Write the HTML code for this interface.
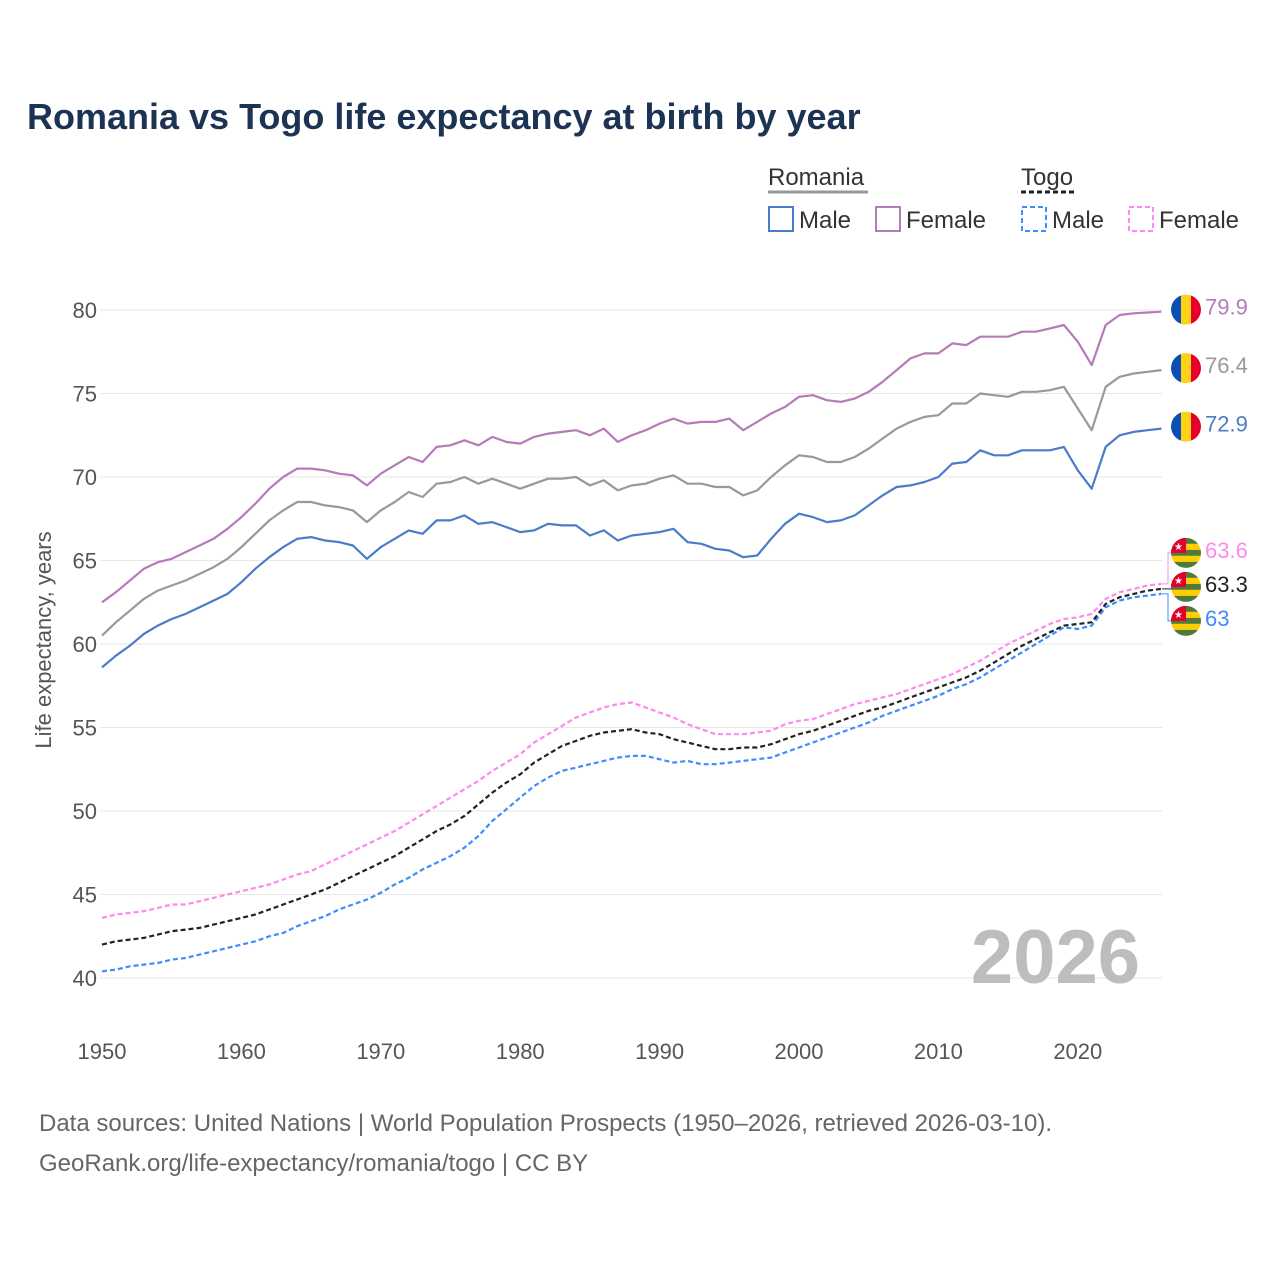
<!DOCTYPE html>
<html><head><meta charset="utf-8"><style>
body{margin:0;background:#fff;}
svg text{font-family:"Liberation Sans",sans-serif;}
</style></head><body>
<svg id="chart" width="1280" height="1280" viewBox="0 0 1280 1280" xmlns="http://www.w3.org/2000/svg">
<text x="27" y="129" font-size="36" font-weight="bold" fill="#1c3353">Romania vs Togo life expectancy at birth by year</text>
<g font-size="24" fill="#333">
<text x="768" y="185" font-size="24" fill="#333">Romania</text>
<line x1="768" y1="192" x2="868" y2="192" stroke="#999" stroke-width="3"/>
<text x="1021" y="185" font-size="24" fill="#333">Togo</text>
<line x1="1021" y1="192" x2="1076" y2="192" stroke="#222" stroke-width="3" stroke-dasharray="5,3"/>
<rect x="769" y="207" width="24" height="24" fill="none" stroke="#4a7cc9" stroke-width="2"/>
<text x="799" y="228" font-size="24" fill="#333">Male</text>
<rect x="876" y="207" width="24" height="24" fill="none" stroke="#b57bb8" stroke-width="2"/>
<text x="906" y="228" font-size="24" fill="#333">Female</text>
<rect x="1022" y="207" width="24" height="24" fill="none" stroke="#3f8cff" stroke-width="2" stroke-dasharray="5,3"/>
<text x="1052" y="228" font-size="24" fill="#333">Male</text>
<rect x="1129" y="207" width="24" height="24" fill="none" stroke="#ff88f0" stroke-width="2" stroke-dasharray="5,3"/>
<text x="1159" y="228" font-size="24" fill="#333">Female</text>
</g>
<g id="grid"></g>
<text transform="translate(51,640) rotate(-90)" text-anchor="middle" font-size="22" fill="#555">Life expectancy, years</text>
<text x="1140" y="983" text-anchor="end" font-size="76" font-weight="bold" fill="#bdbdbd">2026</text>
<g id="lines"></g>
<g id="labels"></g>
<text x="39" y="1131" font-size="24" fill="#666">Data sources: United Nations | World Population Prospects (1950–2026, retrieved 2026-03-10).</text>
<text x="39" y="1171" font-size="24" fill="#666">GeoRank.org/life-expectancy/romania/togo | CC BY</text>
</svg>
<script>
const startYear = 1950;
const xTicks = [1950,1960,1970,1980,1990,2000,2010,2020];
const yTicks = [40,45,50,55,60,65,70,75,80];
const roFemale = [62.5,63.1,63.8,64.5,64.9,65.1,65.5,65.9,66.3,66.9,67.6,68.4,69.3,70.0,70.5,70.5,70.4,70.2,70.1,69.5,70.2,70.7,71.2,70.9,71.8,71.9,72.2,71.9,72.4,72.1,72.0,72.4,72.6,72.7,72.8,72.5,72.9,72.1,72.5,72.8,73.2,73.5,73.2,73.3,73.3,73.5,72.8,73.3,73.8,74.2,74.8,74.9,74.6,74.5,74.7,75.1,75.7,76.4,77.1,77.4,77.4,78.0,77.9,78.4,78.4,78.4,78.7,78.7,78.9,79.1,78.1,76.7,79.1,79.7,79.8,79.85,79.9];
const roTotal = [60.5,61.3,62.0,62.7,63.2,63.5,63.8,64.2,64.6,65.1,65.8,66.6,67.4,68.0,68.5,68.5,68.3,68.2,68.0,67.3,68.0,68.5,69.1,68.8,69.6,69.7,70.0,69.6,69.9,69.6,69.3,69.6,69.9,69.9,70.0,69.5,69.8,69.2,69.5,69.6,69.9,70.1,69.6,69.6,69.4,69.4,68.9,69.2,70.0,70.7,71.3,71.2,70.9,70.9,71.2,71.7,72.3,72.9,73.3,73.6,73.7,74.4,74.4,75.0,74.9,74.8,75.1,75.1,75.2,75.4,74.1,72.8,75.4,76.0,76.2,76.3,76.4];
const roMale = [58.6,59.3,59.9,60.6,61.1,61.5,61.8,62.2,62.6,63.0,63.7,64.5,65.2,65.8,66.3,66.4,66.2,66.1,65.9,65.1,65.8,66.3,66.8,66.6,67.4,67.4,67.7,67.2,67.3,67.0,66.7,66.8,67.2,67.1,67.1,66.5,66.8,66.2,66.5,66.6,66.7,66.9,66.1,66.0,65.7,65.6,65.2,65.3,66.3,67.2,67.8,67.6,67.3,67.4,67.7,68.3,68.9,69.4,69.5,69.7,70.0,70.8,70.9,71.6,71.3,71.3,71.6,71.6,71.6,71.8,70.4,69.3,71.8,72.5,72.7,72.8,72.9];
const tgFemale = [43.6,43.8,43.9,44.0,44.2,44.4,44.4,44.6,44.8,45.0,45.2,45.4,45.6,45.9,46.2,46.4,46.8,47.2,47.6,48.0,48.4,48.8,49.3,49.8,50.3,50.8,51.3,51.8,52.4,52.9,53.4,54.1,54.6,55.1,55.6,55.9,56.2,56.4,56.5,56.2,55.9,55.6,55.2,54.9,54.6,54.6,54.6,54.7,54.8,55.2,55.4,55.5,55.8,56.1,56.4,56.6,56.8,57.0,57.3,57.6,57.9,58.2,58.6,59.0,59.5,60.0,60.4,60.8,61.2,61.5,61.6,61.8,62.7,63.1,63.3,63.5,63.6];
const tgTotal = [42.0,42.2,42.3,42.4,42.6,42.8,42.9,43.0,43.2,43.4,43.6,43.8,44.1,44.4,44.7,45.0,45.3,45.7,46.1,46.5,46.9,47.3,47.8,48.3,48.8,49.2,49.7,50.4,51.1,51.7,52.2,52.9,53.4,53.9,54.2,54.5,54.7,54.8,54.9,54.7,54.6,54.3,54.1,53.9,53.7,53.7,53.8,53.8,54.0,54.3,54.6,54.8,55.1,55.4,55.7,56.0,56.2,56.5,56.8,57.1,57.4,57.7,58.0,58.4,58.9,59.4,59.9,60.3,60.7,61.1,61.2,61.3,62.4,62.8,63.0,63.2,63.3];
const tgMale = [40.4,40.5,40.7,40.8,40.9,41.1,41.2,41.4,41.6,41.8,42.0,42.2,42.5,42.7,43.1,43.4,43.7,44.1,44.4,44.7,45.1,45.6,46.0,46.5,46.9,47.3,47.8,48.5,49.4,50.1,50.8,51.5,52.0,52.4,52.6,52.8,53.0,53.2,53.3,53.3,53.1,52.9,53.0,52.8,52.8,52.9,53.0,53.1,53.2,53.5,53.8,54.1,54.4,54.7,55.0,55.3,55.7,56.0,56.3,56.6,56.9,57.3,57.6,58.0,58.5,59.0,59.5,60.0,60.5,61.0,60.9,61.1,62.2,62.6,62.8,62.9,63.0];

const NS="http://www.w3.org/2000/svg";
const X0=102, PX_PER_YEAR=13.94, Y80=310, PX_PER_UNIT=16.7;
function xScale(yr){return X0+(yr-1950)*PX_PER_YEAR;}
function yScale(v){return Y80+(80-v)*PX_PER_UNIT;}
function mk(tag,attrs,parent){const e=document.createElementNS(NS,tag);for(const k in attrs)e.setAttribute(k,attrs[k]);parent.appendChild(e);return e;}
const grid=document.getElementById('grid');
yTicks.forEach(v=>{
  const l=mk('line',{x1:100,x2:1162,y1:yScale(v),y2:yScale(v),stroke:'#e6e6e6','stroke-width':1},grid);
  
  
  const t=mk('text',{x:97,y:yScale(v)+8,'text-anchor':'end','font-size':22,fill:'#555'},grid);
  t.textContent=v;
  
  
});
xTicks.forEach(yr=>{
  const t=mk('text',{x:xScale(yr),y:1059,'text-anchor':'middle','font-size':22,fill:'#555'},grid);
  t.textContent=yr;
  
  
});
const lines=document.getElementById('lines');
function draw(arr,color,dash,name){
  const d=arr.map((v,i)=>(i?'L':'M')+xScale(startYear+i).toFixed(1)+','+yScale(v).toFixed(1)).join('');
  const p=mk('path',{d:d,fill:'none',stroke:color,'stroke-width':2.2,'stroke-linejoin':'round'},lines);
  if(dash)p.setAttribute('stroke-dasharray','5,3');
  
  
}
draw(roFemale,'#b57bb8',false,'romania-female-line');
draw(roTotal,'#999999',false,'romania-total-line');
draw(roMale,'#4a7cc9',false,'romania-male-line');
draw(tgFemale,'#ff88f0',true,'togo-female-line');
draw(tgMale,'#3f8cff',true,'togo-male-line');
draw(tgTotal,'#222222',true,'togo-total-line');

const labels=document.getElementById('labels');
const defs=mk('defs',{},labels);
const cp=mk('clipPath',{id:'circ'},defs);
mk('circle',{cx:0,cy:0,r:15},cp);
function roFlag(y,name){
  const g=mk('g',{transform:'translate(1186,'+y+')','clip-path':'url(#circ)'},labels);
  
  
  mk('rect',{x:-15,y:-15,width:10,height:30,fill:'#0b4fb5'},g);
  mk('rect',{x:-5,y:-15,width:10,height:30,fill:'#fcd116'},g);
  mk('rect',{x:5,y:-15,width:10,height:30,fill:'#e4002b'},g);
}
function tgFlag(y,name){
  const g=mk('g',{transform:'translate(1186,'+y+')','clip-path':'url(#circ)'},labels);
  
  
  for(let i=0;i<5;i++)mk('rect',{x:-15,y:-15+i*6,width:30,height:6,fill:i%2?'#ffce00':'#4f7a3a'},g);
  mk('rect',{x:-15,y:-15,width:15,height:15,fill:'#e4002b'},g);
  mk('text',{x:-7.5,y:-3,'text-anchor':'middle','font-size':10,fill:'#fff'},g).textContent='★';
}
function valLabel(y,val,color,name){
  const t=mk('text',{x:1205,y:y+5,'font-size':22,fill:color},labels);
  t.textContent=val;
  
  
}
const last=roFemale.length-1;
[[roFemale,'#b57bb8','romania-female'],[roTotal,'#999999','romania-total'],[roMale,'#4a7cc9','romania-male']].forEach(([a,c,n])=>{
  const y=yScale(a[last])-2;roFlag(y,n+'-flag');valLabel(y,a[last],c,n+'-value');
});
const tf=yScale(tgFemale[last]), tt=yScale(tgTotal[last]), tm=yScale(tgMale[last]);
const lt=tt-2, offF=lt-34, offM=lt+34;
mk('path',{d:`M1162,${tf}H1168V${offF}H1172`,fill:'none',stroke:'#ff88f0','stroke-width':1},labels);
mk('path',{d:`M1162,${tm}H1168V${offM}H1172`,fill:'none',stroke:'#3f8cff','stroke-width':1},labels);
mk('path',{d:`M1162,${tt}H1172`,fill:'none',stroke:'#222','stroke-width':1},labels);
tgFlag(offF,'togo-female-flag');valLabel(offF,tgFemale[last],'#ff88f0','togo-female-value');
tgFlag(lt,'togo-total-flag');valLabel(lt,tgTotal[last],'#222','togo-total-value');
tgFlag(offM,'togo-male-flag');valLabel(offM,tgMale[last],'#3f8cff','togo-male-value');
</script>
</body></html>
